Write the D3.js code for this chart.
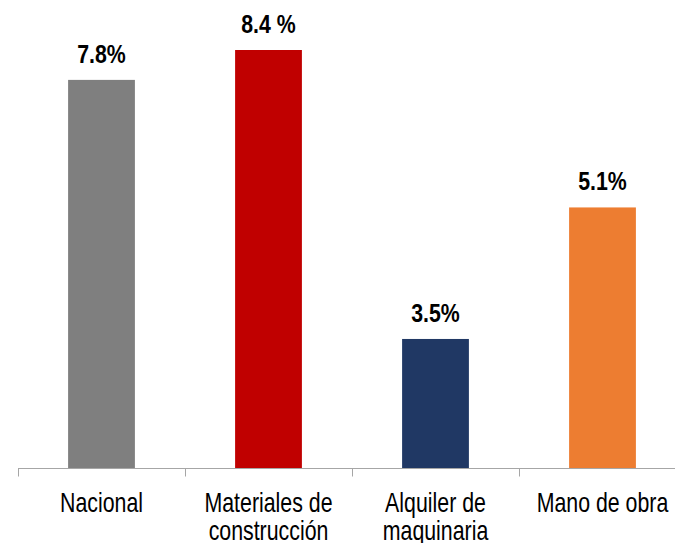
<!DOCTYPE html>
<html>
<head>
<meta charset="utf-8">
<script src="https://cdn.jsdelivr.net/npm/d3@7"></script>
<style>
  body { margin: 0; background: #fff; }
  text { font-family: "Liberation Sans", Arial, sans-serif; }
</style>
</head>
<body>
<svg id="chart"></svg>
<script>
const categories = [
  ["Nacional"],
  ["Materiales de", "construcción"],
  ["Alquiler de", "maquinaria"],
  ["Mano de obra"],
];
const values = [7.8, 8.4, 2.6, 5.24];
const valueLabels = ["7.8%", "8.4 %", "3.5%", "5.1%"];
const colors = ["#7F7F7F", "#C00000", "#203864", "#ED7D31"];

const width = 675;
const height = 543;
const baseline = 468.5;

const svg = d3.select("#chart").attr("width", width).attr("height", height);

const keys = categories.map((c) => c.join(" "));

// band scale runs past the right edge like the original
const x = d3
  .scaleBand()
  .domain(keys)
  .range([18, 686])
  .paddingInner(0.6)
  .paddingOuter(0.3);

const y = d3.scaleLinear().domain([0, 8.4]).range([baseline, 50]);
const cx = (i) => x(keys[i]) + x.bandwidth() / 2;

// bars
svg
  .selectAll(".bar")
  .data(values)
  .enter()
  .append("rect")
  .attr("class", "bar")
  .attr("x", (d, i) => x(keys[i]))
  .attr("y", (d) => y(d))
  .attr("width", x.bandwidth())
  .attr("height", (d) => y(0) - y(d))
  .attr("fill", (d, i) => colors[i]);

// axis line and ticks at band edges
const step = x.step();
svg
  .append("line")
  .attr("x1", 18)
  .attr("x2", width)
  .attr("y1", baseline)
  .attr("y2", baseline)
  .attr("stroke", "#A6A6A6")
  .attr("stroke-width", 1);

svg
  .selectAll(".tick")
  .data(keys)
  .enter()
  .append("line")
  .attr("class", "tick")
  .attr("x1", (d) => Math.round(x(d) - step * 0.3) + 0.5)
  .attr("x2", (d) => Math.round(x(d) - step * 0.3) + 0.5)
  .attr("y1", baseline)
  .attr("y2", baseline + 8)
  .attr("stroke", "#A6A6A6");

// value labels (Liberation Sans squeezed to look like Arial Narrow)
svg
  .selectAll(".val")
  .data(values)
  .enter()
  .append("text")
  .attr("class", "val")
  .attr("transform", (d, i) => `translate(${cx(i)},${y(d) - 17}) scale(0.82,1)`)
  .attr("text-anchor", "middle")
  .attr("font-size", 26)
  .attr("font-weight", "bold")
  .attr("fill", "#000")
  .text((d, i) => valueLabels[i]);

// category labels
const cat = svg
  .selectAll(".cat")
  .data(categories)
  .enter()
  .append("text")
  .attr("class", "cat")
  .attr("transform", (d, i) => `translate(${cx(i)},512) scale(0.79,1)`)
  .attr("text-anchor", "middle")
  .attr("font-size", 27)
  .attr("fill", "#000");

cat
  .selectAll("tspan")
  .data((d) => d)
  .enter()
  .append("tspan")
  .attr("x", 0)
  .attr("y", (d, j) => j * 28)
  .text((d) => d);
</script>
</body>
</html>
